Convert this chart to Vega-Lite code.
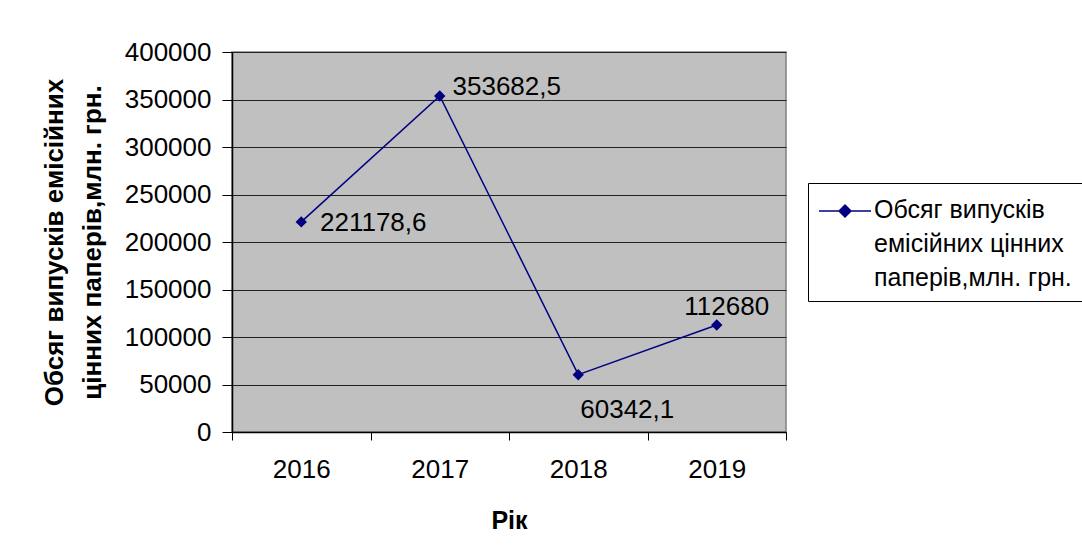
{
  "$schema": "https://vega.github.io/schema/vega-lite/v6.json",
  "autosize": {"type": "none"},
  "width": 554,
  "height": 380,
  "padding": {"left": 232, "top": 52, "right": 296, "bottom": 128},
  "background": "white",
  "config": {
    "font": "Liberation Sans",
    "view": {"fill": "#c0c0c0", "stroke": "#808080", "strokeWidth": 1.5},
    "axis": {"labelFont": "Liberation Sans", "titleFont": "Liberation Sans", "labelColor": "black", "titleColor": "black"}
  },
  "data": {
    "values": [
      {"year": "2016", "value": 221178.6, "label": "221178,6", "series": "Обсяг випусків емісійних цінних паперів,млн. грн."},
      {"year": "2017", "value": 353682.5, "label": "353682,5", "series": "Обсяг випусків емісійних цінних паперів,млн. грн."},
      {"year": "2018", "value": 60342.1, "label": "60342,1", "series": "Обсяг випусків емісійних цінних паперів,млн. грн."},
      {"year": "2019", "value": 112680, "label": "112680", "series": "Обсяг випусків емісійних цінних паперів,млн. грн."}
    ]
  },
  "encoding": {
    "x": {
      "field": "year", "type": "nominal",
      "scale": {"type": "band", "paddingInner": 0, "paddingOuter": 0},
      "axis": {
        "title": "Рік", "titleFontSize": 25, "titleFontWeight": "bold", "titlePadding": 26,
        "labelAngle": 0, "labelFontSize": 26, "labelPadding": 16,
        "tickBand": "extent", "tickColor": "black", "tickSize": 8,
        "domainColor": "black", "domainWidth": 1.5, "grid": false
      }
    },
    "y": {
      "field": "value", "type": "quantitative",
      "scale": {"domain": [0, 400000], "nice": false},
      "axis": {
        "title": ["Обсяг випусків емісійних", "цінних паперів,млн. грн."],
        "titleFontSize": 26, "titleFontWeight": "bold", "titlePadding": 19, "titleLineHeight": 38,
        "values": [0, 50000, 100000, 150000, 200000, 250000, 300000, 350000, 400000],
        "format": "d", "labelFontSize": 26, "labelPadding": 11,
        "tickColor": "black", "tickSize": 10,
        "domainColor": "black", "domainWidth": 1.5,
        "grid": true, "gridColor": "#222", "gridWidth": 1
      }
    }
  },
  "layer": [
    {
      "mark": {"type": "line", "color": "#000080", "strokeWidth": 1.5},
      "encoding": {
        "color": {
          "field": "series", "type": "nominal",
          "scale": {"range": ["#000080"]},
          "legend": {
            "title": null, "orient": "none", "legendX": 576, "legendY": 131,
            "strokeColor": "black", "fillColor": "white", "padding": 10, "labelOffset": 20,
            "symbolType": "M-1,0H2.06M0.18,0L0.53,-0.35L0.88,0L0.53,0.35Z",
            "symbolSize": 1156, "symbolFillColor": "#000080", "symbolStrokeColor": "#000080", "symbolStrokeWidth": 1.5,
            "labelFontSize": 25, "labelFont": "Liberation Sans", "labelColor": "black", "labelLimit": 400,
            "labelExpr": "['Обсяг випусків', 'емісійних цінних', 'паперів,млн. грн.']",
            "labelBaseline": "top",
            "encode": {"labels": {"update": {"lineHeight": {"value": 34}, "dy": {"value": -13}}}}
          }
        }
      }
    },
    {
      "mark": {"type": "point", "shape": "diamond", "filled": true, "size": 130, "color": "#000080", "opacity": 1}
    },
    {
      "transform": [{"filter": "datum.year == '2016'"}],
      "mark": {"type": "text", "align": "center", "baseline": "middle", "dx": 72, "dy": 1, "fontSize": 26, "color": "black"},
      "encoding": {"text": {"field": "label"}}
    },
    {
      "transform": [{"filter": "datum.year == '2017'"}],
      "mark": {"type": "text", "align": "center", "baseline": "middle", "dx": 67, "dy": -9, "fontSize": 26, "color": "black"},
      "encoding": {"text": {"field": "label"}}
    },
    {
      "transform": [{"filter": "datum.year == '2018'"}],
      "mark": {"type": "text", "align": "center", "baseline": "middle", "dx": 49, "dy": 35, "fontSize": 26, "color": "black"},
      "encoding": {"text": {"field": "label"}}
    },
    {
      "transform": [{"filter": "datum.year == '2019'"}],
      "mark": {"type": "text", "align": "center", "baseline": "middle", "dx": 10, "dy": -18, "fontSize": 26, "color": "black"},
      "encoding": {"text": {"field": "label"}}
    }
  ]
}
